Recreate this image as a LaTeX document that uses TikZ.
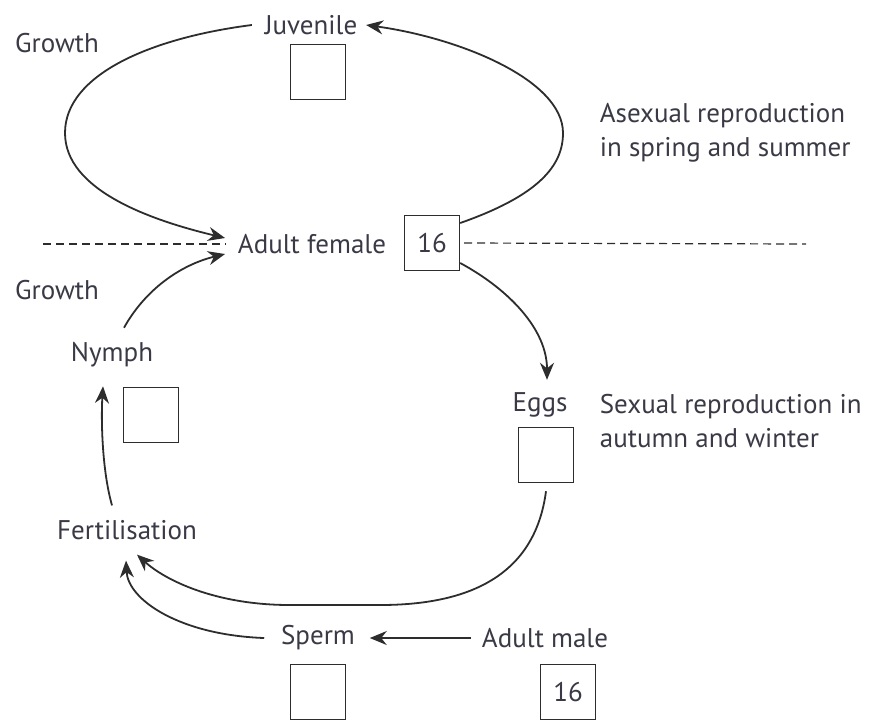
\documentclass[tikz,border=0pt]{standalone}
\usepackage{fontspec}
\setmainfont{PT Sans}
\usepackage{tikz}
\usetikzlibrary{arrows}
\usetikzlibrary{arrows.meta}
\usetikzlibrary{positioning}
\usepackage{xcolor}
\definecolor{txtgrey}{RGB}{58,58,70}
\definecolor{linegrey}{RGB}{45,45,45}

\begin{document}
\begin{tikzpicture}[x=0.5pt, y=-0.5pt, >={Stealth[length=8.5pt, width=7pt]}, line width=0.9pt, draw=linegrey]
\tikzstyle{lbl} = [text=txtgrey, font=\fontsize{13.5}{16}\selectfont, inner sep=1pt]
\tikzstyle{box} = [draw=linegrey, line width=0.7pt, minimum size=27.5pt, inner sep=0pt, text=txtgrey, font=\fontsize{13.5}{16}\selectfont]
\tikzstyle{note} = [lbl, anchor=west, align=left, font=\fontsize{13.5}{17}\selectfont]

\useasboundingbox (0,0) rectangle (876,719);

% stages
\node[lbl] (J) at (311,25) {Juvenile};
\node[box] (JB) at (318,72) {};
\node[lbl] (AF) at (312,244) {Adult female};
\node[box] (AFB) at (432,243) {16};
\node[lbl] (N) at (112,355) {Nymph};
\node[box] (NB) at (151,415) {};
\node[lbl] (F) at (127,530) {Fertilisation};
\node[lbl] (E) at (540,405) {Eggs};
\node[box] (EB) at (546,455) {};
\node[lbl] (S) at (318,638) {Sperm};
\node[box] (SB) at (318,692) {};
\node[lbl] (M) at (545,638) {Adult male};
\node[box] (MB) at (568,692) {16};

% side texts
\node[lbl] (G1) at (57,43) {Growth};
\node[lbl] (G2) at (57,290) {Growth};
\node[note] (AS) at (597,133) {Asexual reproduction\\in spring and summer};
\node[note] (SX) at (597,421) {Sexual reproduction in\\autumn and winter};

% dividing line
\coordinate (DL) at (43,244);
\coordinate (DR) at (806,244);
\draw[dashed, line width=0.6pt, dash pattern=on 4pt off 2.5pt] (DL) -- ([xshift=-5pt]AF.west);
\draw[dashed, line width=0.6pt, dash pattern=on 4pt off 2.5pt] ([xshift=2pt]AFB.east) -- (DR);

% asexual cycle
\draw[->] ([xshift=-5pt]J.west) .. controls (150,38) and (65,75) .. (65,133)
	.. controls (65,190) and (150,220) .. ([xshift=-5pt,yshift=3pt]AF.west);
\draw[->] ([yshift=10pt]AFB.east) .. controls (540,195) and (563,165) .. (563,133)
	.. controls (563,80) and (460,38) .. ([xshift=3pt]J.east);

% sexual cycle
\draw[->] ([yshift=-10pt]AFB.east) .. controls (510,290) and (547,330) .. ([xshift=3.5pt,yshift=5pt]E.north);
\draw[->] ([yshift=-4pt]EB.south) .. controls (535,575) and (470,605) .. (380,605)
	-- (290,605) .. controls (215,605) and (165,580) .. ([xshift=5pt,yshift=-6pt]F.south);
\draw[->] ([xshift=-4pt]M.west) -- ([xshift=6pt]S.east);
\draw[->] ([xshift=-7pt]S.west) .. controls (180,635) and (128,600) .. ([xshift=-0.5pt,yshift=-9pt]F.south);
\draw[->] ([xshift=-7.5pt,yshift=6pt]F.north) .. controls (102,470) and (101,420) .. ([xshift=-4.5pt,yshift=-8pt]N.south);
\draw[->] ([xshift=6pt,yshift=6pt]N.north) .. controls (145,290) and (180,265) .. ([xshift=-5pt,yshift=-5pt]AF.west);

\end{tikzpicture}
\end{document}
